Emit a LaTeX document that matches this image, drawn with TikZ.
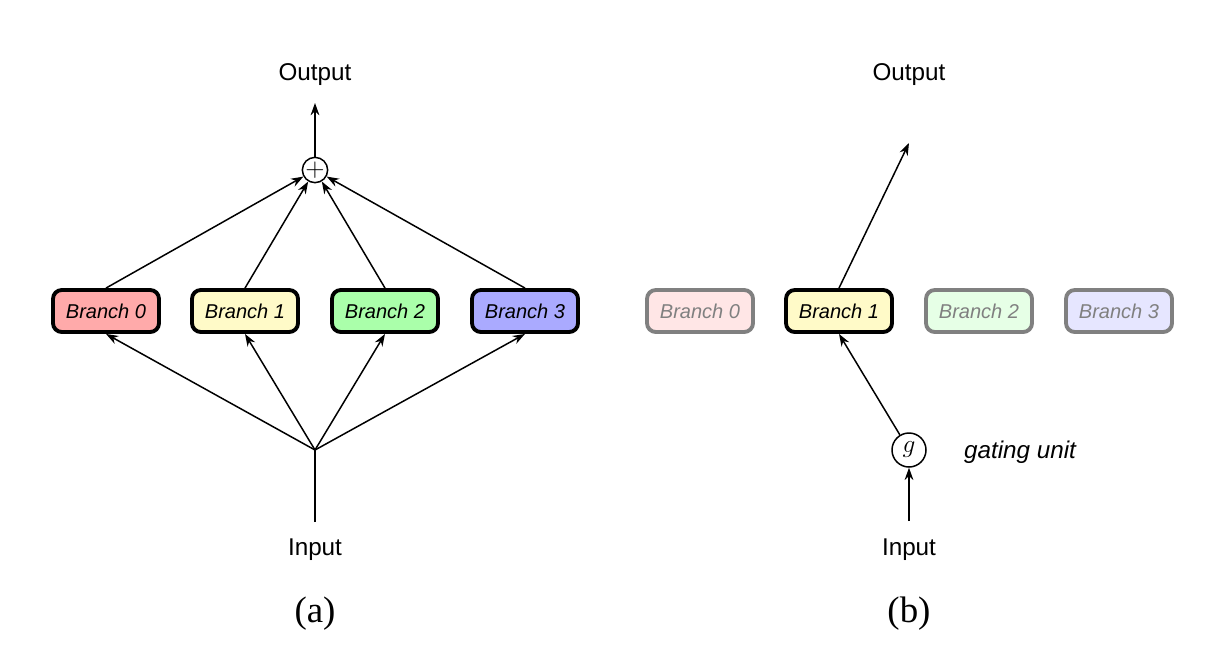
\documentclass[tikz,border=0pt]{standalone}
\usepackage{fontspec}
\setmainfont{Liberation Serif}
\setsansfont{Liberation Sans}
\usetikzlibrary{arrows.meta}

\definecolor{brzero}{RGB}{255,170,170}
\definecolor{brone}{RGB}{255,250,200}
\definecolor{brtwo}{RGB}{170,255,170}
\definecolor{brthree}{RGB}{170,170,255}

\begin{document}
\begin{tikzpicture}[x=0.02cm, y=-0.02cm]
\tikzset{edge/.style = {-{Stealth[length=7pt, width=5pt]}, line width=0.85pt}}
\tikzset{branch/.style = {rounded corners=5pt, draw, line width=2.2pt, minimum width=2.12cm, minimum height=0.84cm, font=\fontsize{11.4}{13}\selectfont\sffamily\itshape}}
\tikzset{faded/.style = {branch, draw=gray, text=gray}}
\tikzset{label/.style = {font=\fontsize{13.8}{16}\selectfont\sffamily}}

\useasboundingbox (0,0) rectangle (1208,660);

% (a) all branches summed
\node[label] (outa) at (315,75) {Output};
\coordinate (tipa) at (315,103);
\node[circle, draw, line width=0.85pt, minimum size=0.48cm, inner sep=0pt, font=\Large] (sum) at (315,170) {$+$};
\node[branch, fill=brzero] (a0) at (106,311) {Branch 0};
\node[branch, fill=brone] (a1) at (245,311) {Branch 1};
\node[branch, fill=brtwo] (a2) at (385,311) {Branch 2};
\node[branch, fill=brthree] (a3) at (525,311) {Branch 3};
\coordinate (split) at (315,450);
\coordinate (ina) at (315,522);
\node[label] (inputa) at (315,550) {Input};
\node[font=\fontsize{21}{25}\selectfont] (capa) at (315,614) {(a)};

\draw[edge] (sum) -- (tipa);
\draw[edge] (a0.north) -- (sum);
\draw[edge] (a1.north) -- (sum);
\draw[edge] (a2.north) -- (sum);
\draw[edge] (a3.north) -- (sum);
\draw[line width=0.85pt] (ina) -- (split);
\draw[edge] (split) -- (a0.south);
\draw[edge] (split) -- (a1.south);
\draw[edge] (split) -- (a2.south);
\draw[edge] (split) -- (a3.south);

% (b) one branch picked by the gate
\node[label] (outb) at (909,75) {Output};
\coordinate (tipb) at (909,143);
\node[faded, fill=brzero!30] (b0) at (700,311) {Branch 0};
\node[branch, fill=brone] (b1) at (839,311) {Branch 1};
\node[faded, fill=brtwo!30] (b2) at (979,311) {Branch 2};
\node[faded, fill=brthree!30] (b3) at (1119,311) {Branch 3};
\node[circle, draw, line width=0.85pt, minimum size=0.68cm, inner sep=0pt, font=\Large] (gate) at (909,450) {$g$};
\node[label, font=\fontsize{13.8}{16}\selectfont\sffamily\itshape] (gatetxt) at (1020,452) {gating unit};
\coordinate (inb) at (909,521);
\node[label] (inputb) at (909,550) {Input};
\node[font=\fontsize{21}{25}\selectfont] (capb) at (909,614) {(b)};

\draw[edge] (b1.north) -- (tipb);
\draw[edge] (inb) -- (gate);
\draw[edge] (gate) -- (b1.south);

\end{tikzpicture}
\end{document}
